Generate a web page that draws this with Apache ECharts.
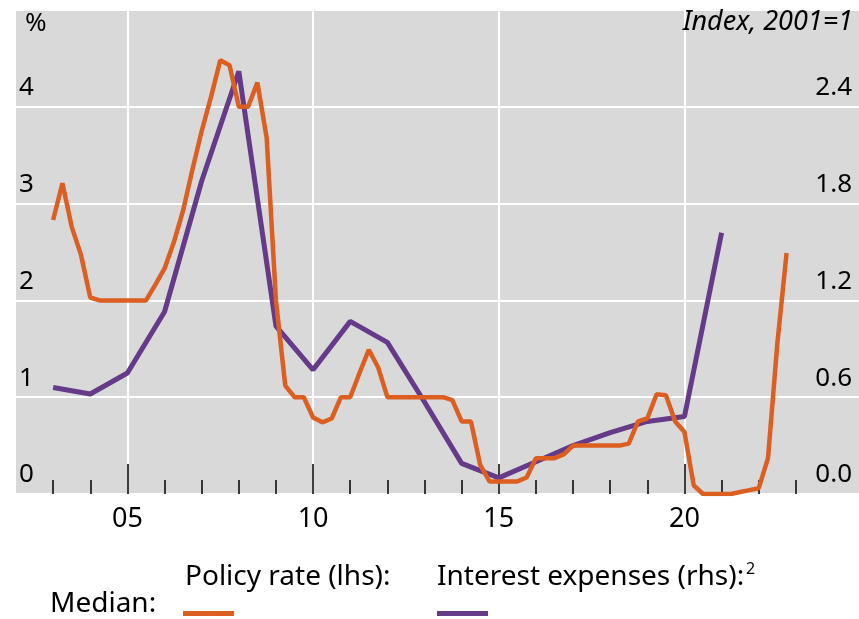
<!DOCTYPE html>
<html>
<head>
<meta charset="utf-8">
<script src="https://cdn.jsdelivr.net/npm/echarts@6/dist/echarts.min.js"></script>
<style>
    html, body { margin: 0; padding: 0; background: #fff; }
    #chart { width: 859px; height: 619px; }
</style>
</head>
<body>
<div id="chart"></div>
<script>
// quarterly median policy rate, % (lhs)
const policyYears = [];
for (let q = 0; q < 80; q++) policyYears.push(2003 + q * 0.25);
const policyRate = [
    2.83, 3.21, 2.76, 2.47, 2.03, 2.0, 2.0, 2.0,
    2.0, 2.0, 2.0, 2.16, 2.33, 2.6, 2.93, 3.35,
    3.75, 4.1, 4.48, 4.43, 4.0, 4.0, 4.25, 3.68,
    2.0, 1.12, 1.0, 1.0, 0.79, 0.74, 0.78, 1.0,
    1.0, 1.25, 1.49, 1.31, 1.0, 1.0, 1.0, 1.0,
    1.0, 1.0, 1.0, 0.97, 0.75, 0.75, 0.3, 0.13,
    0.13, 0.13, 0.13, 0.17, 0.37, 0.37, 0.37, 0.41,
    0.5, 0.5, 0.5, 0.5, 0.5, 0.5, 0.52, 0.75,
    0.78, 1.03, 1.02, 0.75, 0.64, 0.09, 0.0, 0.0,
    0.0, 0.0, 0.02, 0.04, 0.06, 0.37, 1.55, 2.49
];

// annual median interest expenses, index 2001=1 (rhs)
const expenseYears = [2003, 2004, 2005, 2006, 2007, 2008, 2009, 2010, 2011,
    2012, 2013, 2014, 2015, 2016, 2017, 2018, 2019, 2020, 2021];
const interestExpenses = [0.66, 0.62, 0.75, 1.13, 1.94, 2.62, 1.04, 0.77, 1.07,
    0.94, 0.57, 0.19, 0.10, 0.20, 0.30, 0.38, 0.45, 0.48, 1.62];

const minorTickYears = [];
for (let y = 2003; y <= 2023; y++) minorTickYears.push(y);
const majorTickYears = [2005, 2010, 2015, 2020];

const fontFamily = "Noto Sans";
const orange = "#dc5e20";
const purple = "#653a88";

const chart = echarts.init(document.getElementById("chart"));

const option = {
    animation: false,
    textStyle: { fontFamily: fontFamily },
    grid: {
        left: 16,
        right: 0,
        top: 10,
        bottom: 125,
        show: true,
        backgroundColor: "#d9d9d9",
        borderWidth: 0
    },
    xAxis: [
        {
            type: "value",
            position: "bottom",
            min: 2002,
            max: 2024.7,
            axisLine: { show: false },
            axisTick: {
                show: true,
                inside: true,
                length: 14,
                customValues: minorTickYears,
                lineStyle: { color: "#000", width: 1.5 }
            },
            axisLabel: { show: false },
            splitLine: { show: false }
        },
        {
            type: "value",
            position: "bottom",
            min: 2002,
            max: 2024.7,
            axisLine: { show: false },
            axisTick: {
                show: true,
                inside: true,
                length: 30,
                customValues: majorTickYears,
                lineStyle: { color: "#000", width: 1.5 }
            },
            axisLabel: {
                customValues: majorTickYears,
                margin: 12,
                fontSize: 27,
                color: "#000",
                formatter: v => String(Math.round(v) % 100).padStart(2, "0")
            },
            splitLine: { show: true, lineStyle: { color: "#fff", width: 2 } }
        }
    ],
    yAxis: [
        {
            type: "value",
            min: 0,
            max: 5,
            interval: 1,
            axisLine: { show: false },
            axisTick: { show: false },
            axisLabel: {
                inside: true,
                margin: 3,
                fontSize: 26,
                color: "#000",
                verticalAlign: "bottom",
                padding: [0, 0, 6, 0],
                formatter: v => (v >= 5 ? "" : String(v))
            },
            splitLine: { show: true, lineStyle: { color: "#fff", width: 2 } }
        },
        {
            type: "value",
            min: 0,
            max: 3,
            interval: 0.6,
            axisLine: { show: false },
            axisTick: { show: false },
            axisLabel: {
                inside: true,
                margin: 7,
                fontSize: 26,
                color: "#000",
                verticalAlign: "bottom",
                padding: [0, 0, 6, 0],
                formatter: v => (v >= 2.99 ? "" : v.toFixed(1))
            },
            splitLine: { show: false }
        }
    ],
    series: [
        {
            name: "Interest expenses (rhs)",
            type: "line",
            xAxisIndex: 0,
            yAxisIndex: 1,
            data: expenseYears.map((y, i) => [y, interestExpenses[i]]),
            showSymbol: false,
            lineStyle: { color: purple, width: 5 },
            z: 2
        },
        {
            name: "Policy rate (lhs)",
            type: "line",
            xAxisIndex: 0,
            yAxisIndex: 0,
            data: policyYears.map((y, i) => [y, policyRate[i]]),
            showSymbol: false,
            lineStyle: { color: orange, width: 4.5 },
            z: 3
        }
    ],
    graphic: [
        {
            type: "text", left: 25, top: 11, z: 100,
            style: { text: "%", fontSize: 26, fontFamily: fontFamily, fill: "#000" }
        },
        {
            type: "text", right: 6, top: 9, z: 100,
            style: { text: "Index, 2001=1", fontSize: 27, fontStyle: "italic", fontFamily: fontFamily, fill: "#000" }
        },
        {
            type: "text", left: 50, top: 590,
            style: { text: "Median:", fontSize: 28, fontFamily: fontFamily, fill: "#000" }
        },
        {
            type: "text", left: 185, top: 563,
            style: { text: "Policy rate (lhs):", fontSize: 28, fontFamily: fontFamily, fill: "#000" }
        },
        {
            type: "text", left: 437, top: 563,
            style: { text: "Interest expenses (rhs):", fontSize: 28, fontFamily: fontFamily, fill: "#000" }
        },
        {
            type: "text", left: 746, top: 561,
            style: { text: "2", fontSize: 16, fontFamily: fontFamily, fill: "#000" }
        },
        {
            type: "rect", shape: { x: 183, y: 611, width: 51, height: 5 },
            style: { fill: orange }
        },
        {
            type: "rect", shape: { x: 437, y: 611, width: 51, height: 5 },
            style: { fill: purple }
        }
    ]
};

chart.setOption(option);
</script>
</body>
</html>
